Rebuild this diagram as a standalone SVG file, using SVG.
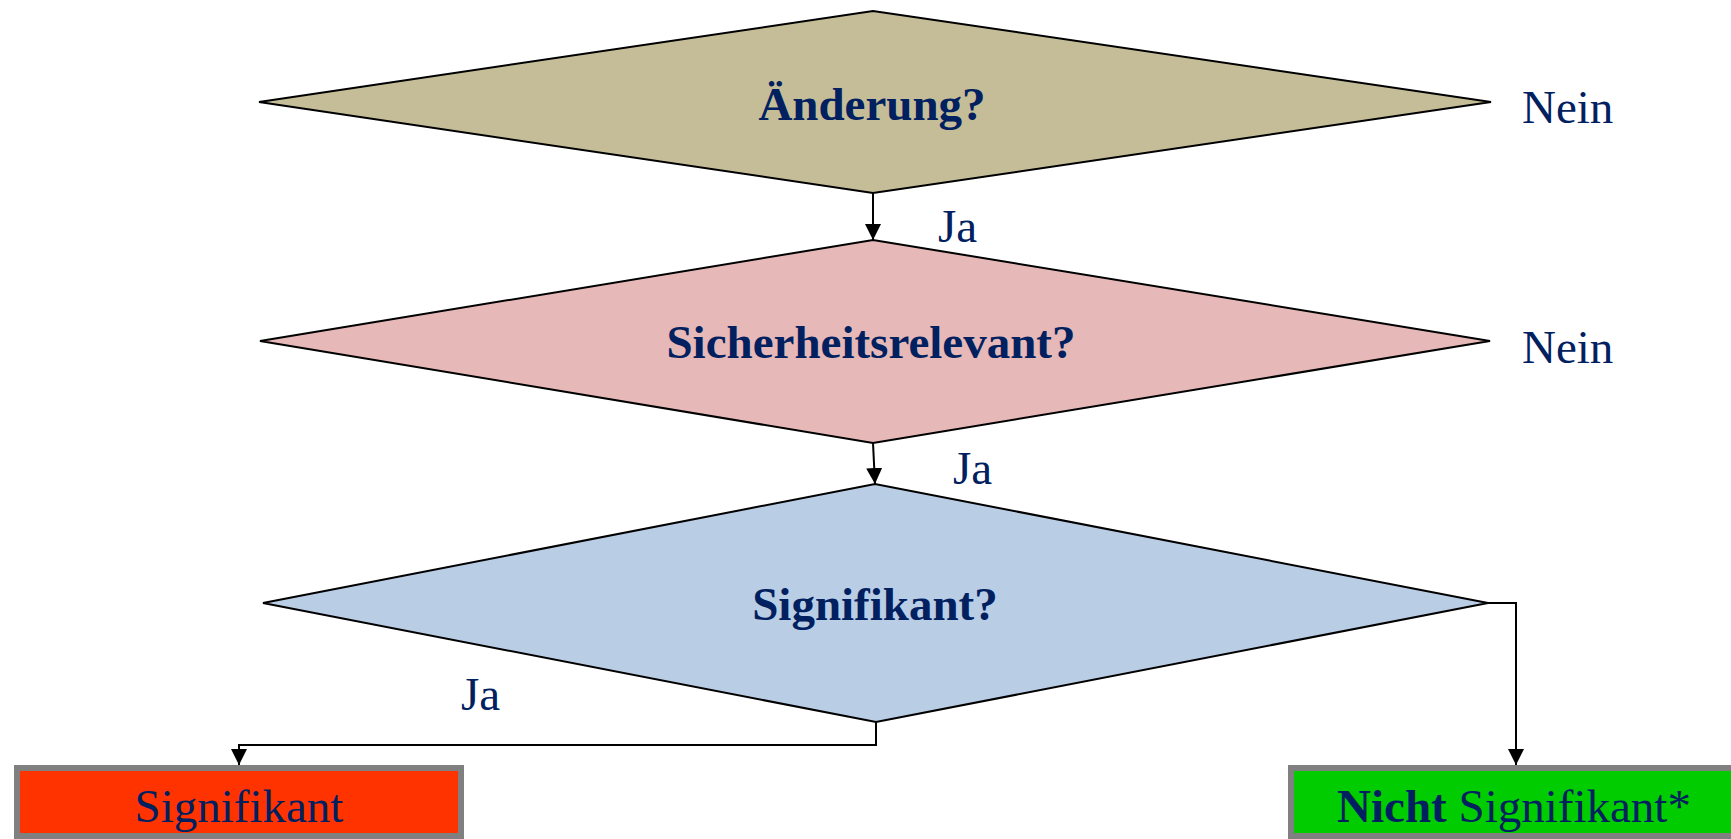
<svg xmlns="http://www.w3.org/2000/svg" width="1731" height="839" viewBox="0 0 1731 839">
<defs>
<marker id="arr" markerUnits="userSpaceOnUse" markerWidth="16" markerHeight="16" viewBox="0 0 16 16" refX="16" refY="8" orient="auto">
<path d="M0,0 L16,8 L0,16 Z" fill="#000"/>
</marker>
<style>
.d{stroke:#000;stroke-width:2;stroke-linejoin:miter}
.t{font-family:"Liberation Serif","Times New Roman",serif;font-size:47px;fill:#002060}
.b{font-weight:bold}
.c{fill:none;stroke:#000;stroke-width:2}
.box{stroke:#808080;stroke-width:6}
</style>
</defs>
<rect width="1731" height="839" fill="#fff"/>
<g id="connectors">
<path class="c" d="M873,193 L873,240" marker-end="url(#arr)"/>
<path class="c" d="M873,443 L875,484" marker-end="url(#arr)"/>
<path class="c" d="M876,722 L876,745 L239,745 L239,765" marker-end="url(#arr)"/>
<path class="c" d="M1488,603 L1516,603 L1516,765" marker-end="url(#arr)"/>
</g>
<g id="n1">
<polygon class="d" fill="#C4BD97" points="259,102 873,11 1491,102 873,193"/>
<text class="t b" x="872" y="120" text-anchor="middle">Änderung?</text>
</g>
<g id="n2">
<polygon class="d" fill="#E6B8B7" points="260,341 873,240 1490,341 873,443"/>
<text class="t b" x="871" y="358" text-anchor="middle">Sicherheitsrelevant?</text>
</g>
<g id="n3">
<polygon class="d" fill="#B9CDE5" points="263,603 875,484 1488,603 876,722"/>
<text class="t b" x="875" y="620" text-anchor="middle">Signifikant?</text>
</g>
<g id="labels">
<text class="t" x="1522" y="123">Nein</text>
<text class="t" x="1522" y="363">Nein</text>
<text class="t" x="938" y="242">Ja</text>
<text class="t" x="953" y="484">Ja</text>
<text class="t" x="461" y="710">Ja</text>
</g>
<g id="n4">
<rect class="box" fill="#FF3300" x="17" y="768" width="444" height="68"/>
<text class="t" x="239" y="822" text-anchor="middle">Signifikant</text>
</g>
<g id="n5">
<rect class="box" fill="#00CC00" x="1291" y="768" width="450" height="68"/>
<text class="t" x="1514" y="822" text-anchor="middle"><tspan class="b">Nicht</tspan> Signifikant*</text>
</g>
</svg>
